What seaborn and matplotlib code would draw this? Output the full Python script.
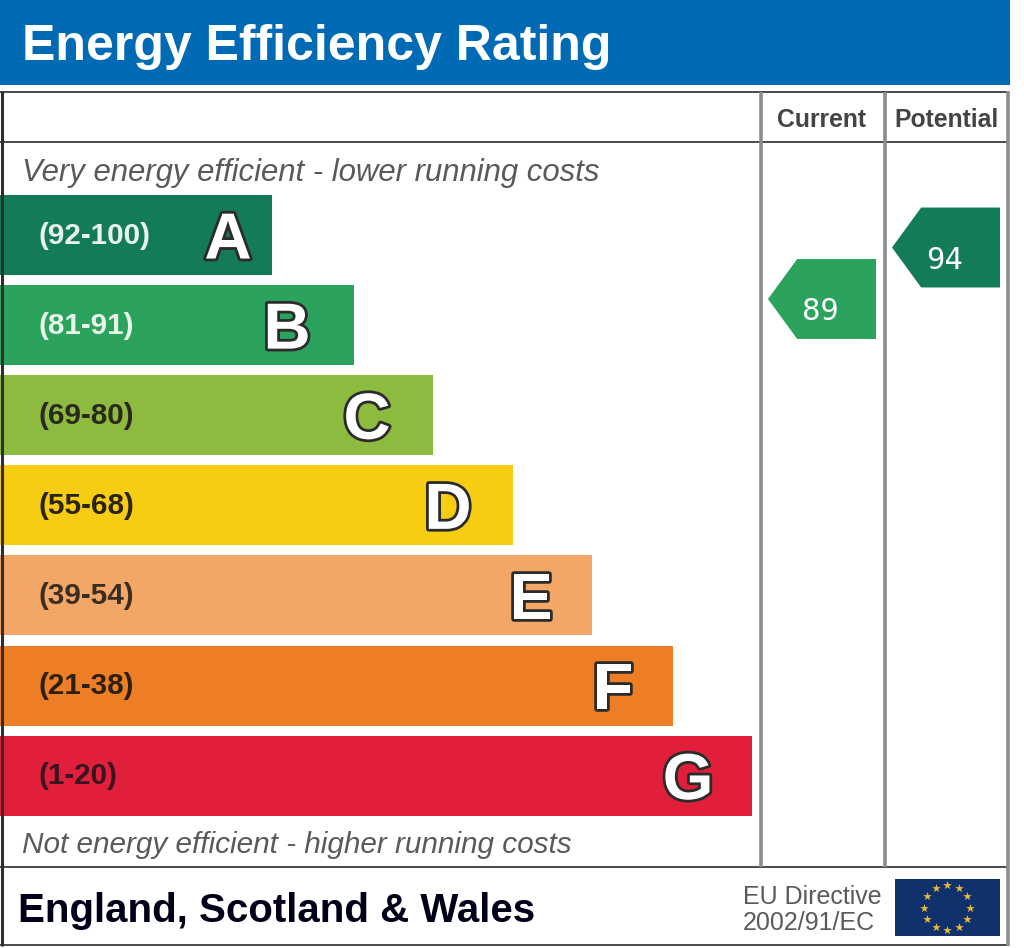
import matplotlib

matplotlib.use("Agg")
import matplotlib.pyplot as plt
import matplotlib.patheffects as pe
import numpy as np
import seaborn as sns
from matplotlib.patches import Rectangle
from matplotlib.path import Path

# Chart values
BANDS = ["A", "B", "C", "D", "E", "F", "G"]
RANGES = ["(92-100)", "(81-91)", "(69-80)", "(55-68)", "(39-54)", "(21-38)", "(1-20)"]
BAR_LENGTHS = [272, 354, 433, 513, 592, 673, 752]
COLUMNS = ["Current", "Potential"]
COLUMN_RATINGS = [89, 94]

# Colours
BAND_COLORS = ["#137b57", "#2ca35c", "#8dbb3f", "#f6cd13", "#f2a766", "#ed7e25", "#e21f3b"]
RANGE_COLORS = ["#e8f3ec", "#e8f3ec", "#2a2a1c", "#2a2410", "#3a2e22", "#2e2010", "#3a1420"]
POINTER_COLORS = {"Current": "#2ca35c", "Potential": "#137b57"}
BLUE = "#006ab5"
LINE_DARK = "#4a4a4a"
LINE_GREY = "#8c8c8c"
MUTED = "#5a5a5a"

W, H = 1024, 948
BAR_TOP, BAR_STEP = 190, 90.1
# gap from the bar end back to the centre of its big letter
LETTER_GAPS = [44, 67, 66, 65, 61, 60, 64]
# rating scale of the two pointer columns: pixel height of rating 94, pixels per point
PX_94, PX_PER_POINT = 247.5, 10.3

sns.set_style("white")
plt.rcParams["font.family"] = ["Liberation Sans", "DejaVu Sans"]

fig = plt.figure(figsize=(W / 100, H / 100), dpi=100, facecolor="white")

# pixel axes for the frame and captions
page = fig.add_axes([0, 0, 1, 1], zorder=3)
page.set_xlim(0, W)
page.set_ylim(H, 0)
page.axis("off")
page.patch.set_alpha(0)

page.add_patch(Rectangle((0, 0), 1010, 85, facecolor=BLUE, edgecolor="none"))
page.text(22, 42, "Energy Efficiency Rating", color="white", fontsize=36, fontweight="bold", va="center_baseline")

page.hlines([92, 142, 867, 945], 0, 1008, color=LINE_DARK, linewidth=1.4)
page.vlines(1.5, 91, 946, color="#2e2e2e", linewidth=2.2)
page.vlines([761, 885], 92, 867, color=LINE_GREY, linewidth=2.6)
page.vlines(1008, 91, 946, color=LINE_GREY, linewidth=2.6)

for name, x in zip(COLUMNS, [821.5, 947]):
    page.text(x, 117, name, ha="center", va="center_baseline", color="#444444", fontsize=17.8, fontweight="bold")

page.text(22, 169, "Very energy efficient - lower running costs", color=MUTED, fontsize=22.4, style="italic", va="center_baseline")
page.text(22, 842, "Not energy efficient - higher running costs", color=MUTED, fontsize=21.4, style="italic", va="center_baseline")
page.text(18, 907, "England, Scotland & Wales", color="#000018", fontsize=29, fontweight="bold", va="center_baseline")
page.text(743, 894, "EU Directive", color=MUTED, fontsize=18, va="center_baseline")
page.text(743, 921, "2002/91/EC", color=MUTED, fontsize=18, va="center_baseline")

# EU flag
page.add_patch(Rectangle((895, 879), 105, 57, facecolor="#10316b", edgecolor="none"))
angles = np.deg2rad(np.arange(0, 360, 30))
page.scatter(947 + 23 * np.cos(angles), 907.5 + 22.5 * np.sin(angles), marker="*", s=42, color="#e5b93a", linewidth=0)

# rating bars, one category per band
bars = fig.add_axes([0, 1 - (BAR_TOP + 7 * BAR_STEP) / H, 1, 7 * BAR_STEP / H], zorder=2)
sns.barplot(
    x=BAR_LENGTHS,
    y=BANDS,
    hue=BANDS,
    palette=BAND_COLORS,
    legend=False,
    saturation=1,
    width=80 / BAR_STEP,
    linewidth=0,
    orient="h",
    ax=bars,
)
bars.set_xlim(0, W)
bars.set_ylim(6.5, -0.5)
bars.axis("off")

outline = [pe.withStroke(linewidth=4, foreground="#2b2b2b")]
for i, band in enumerate(BANDS):
    bars.text(39, i - 0.025, RANGES[i], color=RANGE_COLORS[i], fontsize=21.3, fontweight="bold", va="center_baseline")
    bars.text(
        BAR_LENGTHS[i] - LETTER_GAPS[i], i, band,
        color="white", fontsize=47, fontweight="bold", ha="center", va="center_baseline", path_effects=outline,
    )

# pointers sit on a rating scale sharing the page's x pixels
pointers = fig.add_axes([0, 0, 1, 1], zorder=4)
pointers.patch.set_alpha(0)
pointer_shape = Path(
    [(-1, 0), (-0.46, 0.74), (1, 0.74), (1, -0.74), (-0.46, -0.74), (-1, 0)],
    closed=True,
)
sns.scatterplot(
    x=[822, 946],
    y=COLUMN_RATINGS,
    hue=COLUMNS,
    palette=POINTER_COLORS,
    marker=pointer_shape,
    s=(108 * 0.72) ** 2,
    linewidth=0,
    legend=False,
    ax=pointers,
)
pointers.set_xlim(0, W)
pointers.set_ylim(94 - (H - PX_94) / PX_PER_POINT, 94 + PX_94 / PX_PER_POINT)
pointers.axis("off")
for x, rating in zip([820, 944], COLUMN_RATINGS):
    pointers.annotate(
        str(rating), (x, rating), xytext=(0, -7), textcoords="offset points",
        color="white", fontsize=22, family="DejaVu Sans Mono", ha="center", va="center_baseline",
    )

fig.savefig("out.png", dpi=100, facecolor="white")
